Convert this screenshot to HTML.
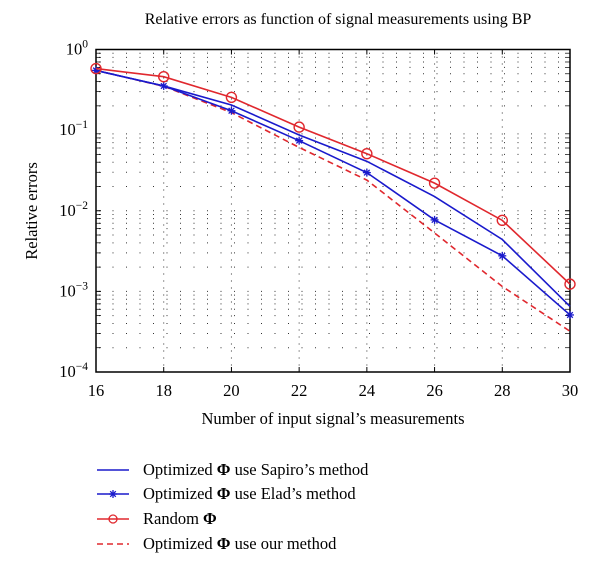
<!DOCTYPE html>
<html><head><meta charset="utf-8"><style>
body{margin:0;background:#fff;}
svg{display:block;font-family:"Liberation Serif",serif;}
</style></head><body>
<svg id="chart" width="600" height="575">
<text x="338" y="24" text-anchor="middle" font-size="16">Relative errors as function of signal measurements using BP</text>
<g id="grid"></g>
<g id="axes"></g>
<g id="series"></g>
<text x="333" y="424" text-anchor="middle" font-size="16.5">Number of input signal’s measurements</text>
<text transform="translate(37,211) rotate(-90)" text-anchor="middle" font-size="16.5">Relative errors</text>
<g id="legend"></g>
</svg>
<script>
const xCats=[16,18,20,22,24,26,28,30];
const sapiro=[0.55,0.353,0.205,0.087,0.041,0.015,0.0044,0.00065];
const elad=[0.55,0.353,0.174,0.074,0.0297,0.0077,0.00276,0.00051];
const random=[0.58,0.46,0.255,0.109,0.051,0.022,0.0076,0.00123];
const ours=[0.55,0.35,0.165,0.061,0.024,0.0053,0.00115,0.00032];
const yDecades=[0,-1,-2,-3,-4];
const legendLabels=["Optimized Φ use Sapiro’s method","Optimized Φ use Elad’s method","Random Φ","Optimized Φ use our method"];

const NS="http://www.w3.org/2000/svg";
const L=96,R=570,T=49.5,B=372;
const x=v=>L+(v-16)/(30-16)*(R-L);
const y=v=>T+(0-Math.log10(v))/4*(B-T);
function mk(tag,attrs,parent){const e=document.createElementNS(NS,tag);for(const k in attrs)e.setAttribute(k,attrs[k]);parent.appendChild(e);return e;}
const grid=document.getElementById('grid'),axes=document.getElementById('axes'),ser=document.getElementById('series'),leg=document.getElementById('legend');
for(let d=0;d>-4;d--){for(let m=1;m<=9;m++){const v=m*Math.pow(10,d-1);const yy=y(v);
 if(m===1&&d===0)continue;
 const g=mk('line',{x1:L+3,x2:R,y1:yy,y2:yy,stroke:'#333','stroke-width':1,'stroke-dasharray':'1 12.5'},grid);
 
 
 mk('line',{x1:L,x2:L+5,y1:yy,y2:yy,stroke:'#000','stroke-width':m===1?1:0.7},axes);
 mk('line',{x1:R,x2:R-5,y1:yy,y2:yy,stroke:'#000','stroke-width':m===1?1:0.7},axes);
}}
xCats.forEach(c=>{const xx=x(c);
 if(c!==16&&c!==30){const g=mk('line',{x1:xx,x2:xx,y1:T,y2:B,stroke:'#333','stroke-width':1,'stroke-dasharray':'1 6'},grid);
 
 }
 mk('line',{x1:xx,x2:xx,y1:B,y2:B-5,stroke:'#000'},axes);
 mk('line',{x1:xx,x2:xx,y1:T,y2:T+5,stroke:'#000'},axes);
 const t=mk('text',{x:xx,y:B+24,'text-anchor':'middle','font-size':16.5},axes);t.textContent=c;
 
 
});
yDecades.forEach(d=>{const yy=y(Math.pow(10,d));
 const t=mk('text',{x:L-8,y:yy+5,'text-anchor':'end','font-size':16.5},axes);
 t.innerHTML='10<tspan dy="-7" font-size="11.5">'+(d===0?'0':'−'+(-d))+'</tspan>';
 
 
});
const box=mk('rect',{x:L,y:T,width:R-L,height:B-T,fill:'none',stroke:'#000','stroke-width':1.5},axes);



function star(cx,cy,p,color){const s=4;
 [[-s,0,s,0],[0,-s,0,s],[-s*.7,-s*.7,s*.7,s*.7],[-s*.7,s*.7,s*.7,-s*.7]].forEach(a=>mk('line',{x1:cx+a[0],y1:cy+a[1],x2:cx+a[2],y2:cy+a[3],stroke:color,'stroke-width':1.3},p));}
function series(vals,color,dash,marker,name){
 const g=mk('g',{},ser);
 
 
 const pts=vals.map((v,i)=>x(xCats[i])+','+y(v)).join(' ');
 mk('polyline',{points:pts,fill:'none',stroke:color,'stroke-width':1.6,'stroke-dasharray':dash||'none'},g);
 vals.forEach((v,i)=>{const cx=x(xCats[i]),cy=y(v);
  if(marker==='o')mk('circle',{cx:cx,cy:cy,r:5,fill:'none',stroke:color,'stroke-width':1.4},g);
  if(marker==='*')star(cx,cy,g,color);});
}
series(ours,'#e0282e','6 4',null,'series-ours');
series(sapiro,'#1a1acc',null,null,'series-sapiro');
series(elad,'#1a1acc',null,'*','series-elad');
series(random,'#e0282e',null,'o','series-random');

const lc=[['#1a1acc',null,null],['#1a1acc',null,'*'],['#e0282e',null,'o'],['#e0282e','6 4',null]];
const ly=[470,494,519,544];
legendLabels.forEach((lab,i)=>{const g=mk('g',{},leg);
 
 
 mk('line',{x1:97,x2:129,y1:ly[i],y2:ly[i],stroke:lc[i][0],'stroke-width':1.5,'stroke-dasharray':lc[i][1]||'none'},g);
 if(lc[i][2]==='o')mk('circle',{cx:113,cy:ly[i],r:4,fill:'none',stroke:lc[i][0],'stroke-width':1.3},g);
 if(lc[i][2]==='*')star(113,ly[i],g,lc[i][0]);
 const t=mk('text',{x:143,y:ly[i]+5,'font-size':16.5},g);
 t.innerHTML=lab.replace('Φ','<tspan font-weight="bold">Φ</tspan>');
});
</script>
</body></html>
